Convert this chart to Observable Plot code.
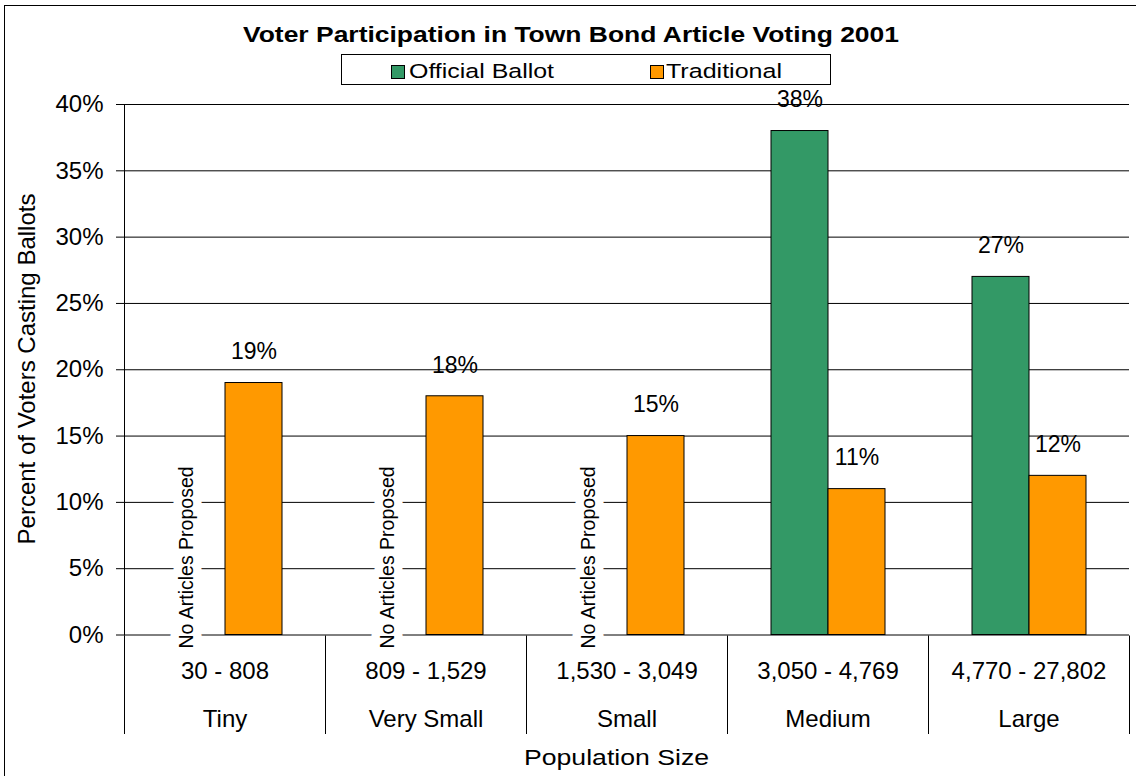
<!DOCTYPE html>
<html>
<head>
<meta charset="utf-8">
<script src="https://cdn.jsdelivr.net/npm/d3@7"></script>
<script src="https://cdn.jsdelivr.net/npm/@observablehq/plot@0.6"></script>
<style>
  html, body { margin: 0; padding: 0; background: #fff; overflow: hidden; width: 1136px; height: 776px; }
  body { position: relative; font-family: "Liberation Sans", Arial, sans-serif; color: #000; }
  #frame { position: absolute; left: 4px; top: 5px; width: 1400px; height: 1000px; border: 1px solid #000; box-sizing: border-box; }
  #chart { position: absolute; left: 0; top: 0; }
  .t { position: absolute; white-space: nowrap; line-height: 1; transform-origin: 0 0; }
  #title { left: 243px; top: 23.6px; font-size: 22px; font-weight: bold; }
  #legend { position: absolute; left: 341px; top: 54px; width: 490px; height: 31px; border: 1px solid #000; box-sizing: border-box; background: #fff; }
  .sw { position: absolute; width: 14px; height: 14px; border: 1px solid #000; box-sizing: border-box; }
  .lt { font-size: 20.5px; }
  #xtitle { left: 523.5px; top: 747.4px; font-size: 22px; }
  #ytitle { position: absolute; left: 27px; top: 369px; font-size: 24px; white-space: nowrap; line-height: 1; transform: translate(-50%, -50%) rotate(-90deg); }
</style>
</head>
<body>
<div id="frame"></div>
<div id="chart"></div>
<div class="t" id="title"></div>
<div id="legend"></div>
<div class="t" id="xtitle"></div>
<div id="ytitle"></div>
<script>
// ---- data ----
const titleText = "Voter Participation in Town Bond Article Voting 2001";
const yTitle = "Percent of Voters Casting Ballots";
const xTitle = "Population Size";
const categories = ["Tiny", "Very Small", "Small", "Medium", "Large"];
const ranges = ["30 - 808", "809 - 1,529", "1,530 - 3,049", "3,050 - 4,769", "4,770 - 27,802"];
const series = ["Official Ballot", "Traditional"];
const seriesColors = ["#339966", "#FF9900"];
const officialBallot = [null, null, null, 0.38, 0.27];
const traditional = [0.19, 0.18, 0.15, 0.11, 0.12];
const yTicks = [0, 0.05, 0.10, 0.15, 0.20, 0.25, 0.30, 0.35, 0.40];
const noteText = "No Articles Proposed";

// ---- derived tables ----
const seriesValues = [officialBallot, traditional];
const rows = [];
categories.forEach((c, i) => series.forEach((s, j) => {
  const v = seriesValues[j][i];
  if (v != null) rows.push({category: c, series: s, value: v});
}));
const noteRows = categories
  .map((c, i) => ({category: c, series: series[0], missing: officialBallot[i] == null}))
  .filter(d => d.missing);
const catRows = categories.map((c, i) => ({category: c, range: ranges[i]}));
const pct = d3.format(".0%");

// ---- chart ----
const chart = Plot.plot({
  width: 1136,
  height: 776,
  marginTop: 104,
  marginBottom: 141.5,
  marginLeft: 122,
  marginRight: 4.5,
  style: {fontFamily: "'Liberation Sans', Arial, sans-serif", fontSize: "24px", background: "transparent", overflow: "visible", color: "#000"},
  fx: {domain: categories, padding: 0, axis: null, label: null},
  x: {domain: series, paddingInner: 0, paddingOuter: 0.755, axis: null, label: null},
  y: {domain: [0, 0.40], ticks: yTicks, tickFormat: pct, tickSize: 8, tickPadding: 13, label: null, line: true},
  color: {domain: series, range: seriesColors},
  marks: [
    Plot.ruleY(yTicks, {stroke: "#000", strokeWidth: 1}),
    Plot.barY(rows, {fx: "category", x: "series", y: "value", fill: "series", stroke: "#000", strokeWidth: 1}),
    Plot.text(rows, {fx: "category", x: "series", y: "value", text: d => pct(d.value), dy: -31, fontSize: 23, fill: "#000"}),
    Plot.text(noteRows, {fx: "category", x: "series", y: () => 0, text: () => noteText, rotate: -90, textAnchor: "start",
      dx: -10, dy: 13.5, fontSize: 19.5, fill: "#000", stroke: "#fff", strokeWidth: 17, strokeLinejoin: "round", paintOrder: "stroke"}),
    Plot.text(catRows, {fx: "category", frameAnchor: "bottom", text: d => d.range + "\n" + d.category,
      lineAnchor: "top", lineHeight: 2, dy: 9.5, fontSize: 24, fill: "#000"})
  ]
});
document.getElementById("chart").appendChild(chart);

// category separators below the axis, derived from the fx scale
const fxS = chart.scale("fx");
const yS = chart.scale("y");
const y0 = yS.apply(0);
const edges = categories.map(c => fxS.apply(c));
edges.push(fxS.apply(categories[categories.length - 1]) + fxS.bandwidth);
const svgSel = d3.select(chart.tagName.toLowerCase() === "svg" ? chart : chart.querySelector("svg"));
svgSel.append("g").attr("stroke", "#000").attr("stroke-width", 1)
  .selectAll("line").data(edges).join("line")
  .attr("x1", d => Math.round(d) + 0.5).attr("x2", d => Math.round(d) + 0.5)
  .attr("y1", Math.round(y0) + 0.5).attr("y2", Math.round(y0) + 99);

// ---- HTML title, legend, axis titles ----
function fit(el, target) {
  const w = el.getBoundingClientRect().width;
  el.style.transform = `scaleX(${target / w})`;
}
const titleEl = document.getElementById("title");
titleEl.textContent = titleText;
fit(titleEl, 656);

const legend = document.getElementById("legend");
const legendSw = [391 - 341, 650 - 341];
const legendTx = [408.5 - 341, 666 - 341];
const legendW = [145, 116];
series.forEach((s, i) => {
  const sw = document.createElement("div");
  sw.className = "sw";
  sw.style.left = (legendSw[i] - 1) + "px";
  sw.style.top = (65 - 55) + "px";
  sw.style.background = seriesColors[i];
  legend.appendChild(sw);
  const tx = document.createElement("div");
  tx.className = "t lt";
  tx.style.left = (legendTx[i] - 1) + "px";
  tx.style.top = (61 - 55) + "px";
  tx.textContent = s;
  legend.appendChild(tx);
  fit(tx, legendW[i]);
});

const xt = document.getElementById("xtitle");
xt.textContent = xTitle;
fit(xt, 185);
document.getElementById("ytitle").textContent = yTitle;
</script>
</body>
</html>
